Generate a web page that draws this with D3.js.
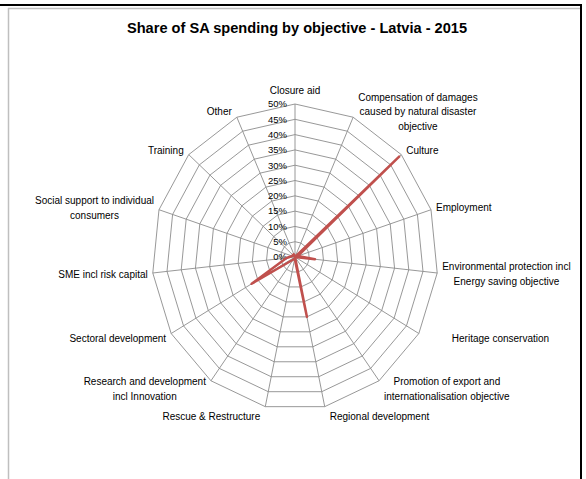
<!DOCTYPE html>
<html><head><meta charset="utf-8">
<script src="https://cdn.jsdelivr.net/npm/d3@7/dist/d3.min.js"></script>
<style>body{margin:0;background:#fff;} svg{display:block;font-family:"Liberation Sans",Arial,sans-serif;}</style>
</head><body>
<svg id="c" width="586" height="479"></svg>
<script>
// ---- data ----
const title = "Share of SA spending by objective - Latvia - 2015";
const categories = ["Closure aid","Compensation of damages caused by natural disaster objective","Culture","Employment","Environmental protection incl Energy saving objective","Heritage conservation","Promotion of export and internationalisation objective","Regional development","Rescue & Restructure","Research and development incl Innovation","Sectoral development","SME incl risk capital","Social support to individual consumers","Training","Other"];
const categoryLabelLines = [["Closure aid"],["Compensation of damages","caused by natural disaster","objective"],["Culture"],["Employment"],["Environmental protection incl","Energy saving objective"],["Heritage conservation"],["Promotion of export and","internationalisation objective"],["Regional development"],["Rescue & Restructure"],["Research and development","incl Innovation"],["Sectoral development"],["SME incl risk capital"],["Social support to individual","consumers"],["Training"],["Other"]];
const shareValues = [0, 0, 0.49, 0.01, 0.07, 0, 0, 0.20, 0.005, 0.01, 0.175, 0.03, 0.01, 0.01, 0.01];
const tickValues = [0,0.05,0.10,0.15,0.20,0.25,0.30,0.35,0.40,0.45,0.50];
const tickLabels = ["0%","5%","10%","15%","20%","25%","30%","35%","40%","45%","50%"];

// ---- layout ----
const svg = d3.select("#c");
const cx = 295, cy = 257, rx = 143, ry = 153;
const n = categories.length;
const ang = d3.scaleLinear().domain([0, n]).range([0, 2*Math.PI]);
const rad = d3.scaleLinear().domain([0, 0.5]).range([0, 1]);
const px = (i, v) => cx + rad(v) * rx * Math.sin(ang(i));
const py = (i, v) => cy - rad(v) * ry * Math.cos(ang(i));

// frame
svg.append("line").attr("x1",8.5).attr("y1",8).attr("x2",8.5).attr("y2",479).attr("stroke","#BFBFBF").attr("stroke-width",1.5);
svg.append("line").attr("x1",8).attr("y1",8.5).attr("x2",580).attr("y2",8.5).attr("stroke","#BFBFBF").attr("stroke-width",1.5);
svg.append("line").attr("x1",0).attr("y1",5).attr("x2",582).attr("y2",5).attr("stroke","#000").attr("stroke-width",2);
svg.append("line").attr("x1",581).attr("y1",4).attr("x2",581).attr("y2",479).attr("stroke","#000").attr("stroke-width",2);

// title
svg.append("text").attr("x",297).attr("y",33).attr("text-anchor","middle")
  .attr("font-weight","bold").attr("font-size","14.6px").attr("fill","#000").text(title);

const idx = d3.range(n);
// rings
const ring = d3.line().x(d => d[0]).y(d => d[1]).curve(d3.curveLinearClosed);
svg.append("g").selectAll("path").data(tickValues.filter(t => t > 0)).join("path")
  .attr("d", t => ring(idx.map(i => [px(i,t), py(i,t)])))
  .attr("fill","none").attr("stroke","#8C8C8C").attr("stroke-width",0.9);
// spokes
svg.append("g").selectAll("line").data(idx).join("line")
  .attr("x1", cx).attr("y1", cy)
  .attr("x2", i => px(i, 0.5)).attr("y2", i => py(i, 0.5))
  .attr("stroke","#8C8C8C").attr("stroke-width",0.9);

// tick labels
svg.append("g").selectAll("text").data(tickValues).join("text")
  .attr("x", cx - 8).attr("y", t => py(0, t)).attr("dy","0.35em")
  .attr("text-anchor","end").attr("font-size","9.5px").attr("fill","#000")
  .text((t,k) => tickLabels[k]);

// data
const dataLine = d3.line().x((v,i) => px(i,v)).y((v,i) => py(i,v)).curve(d3.curveLinearClosed);
svg.append("path").attr("d", dataLine(shareValues))
  .attr("fill","none").attr("stroke","#C0504D").attr("stroke-width",2.5).attr("stroke-linejoin","round");

// category labels (Excel places the "Heritage conservation" label further out)
const lh = 14.5;
const extraGap = {5: 28};
idx.forEach(i => {
  const a = ang(i), s = Math.sin(a), c = Math.cos(a);
  const vx = px(i, 0.5), vy = py(i, 0.5);
  const lines = categoryLabelLines[i];
  const t = svg.append("text").attr("font-size","10px").attr("fill","#000").attr("text-anchor","middle");
  const spans = lines.map(l => t.append("tspan").text(l));
  const w = d3.max(spans, sp => sp.node().getComputedTextLength());
  const gap = 5 + (extraGap[i] || 0);
  let bx, by;
  if (Math.abs(s) < 0.15) { bx = vx; by = vy - c * (6 + lines.length * lh / 2); }
  else {
    bx = s > 0 ? vx + gap + w/2 : vx - gap - w/2;
    by = vy - (c > 0 ? 6 * c : 10 * c);
  }
  spans.forEach((sp, k) => sp.attr("x", bx).attr("y", by + (k - (lines.length-1)/2) * lh).attr("dy","0.35em"));
});
</script>
</body></html>
